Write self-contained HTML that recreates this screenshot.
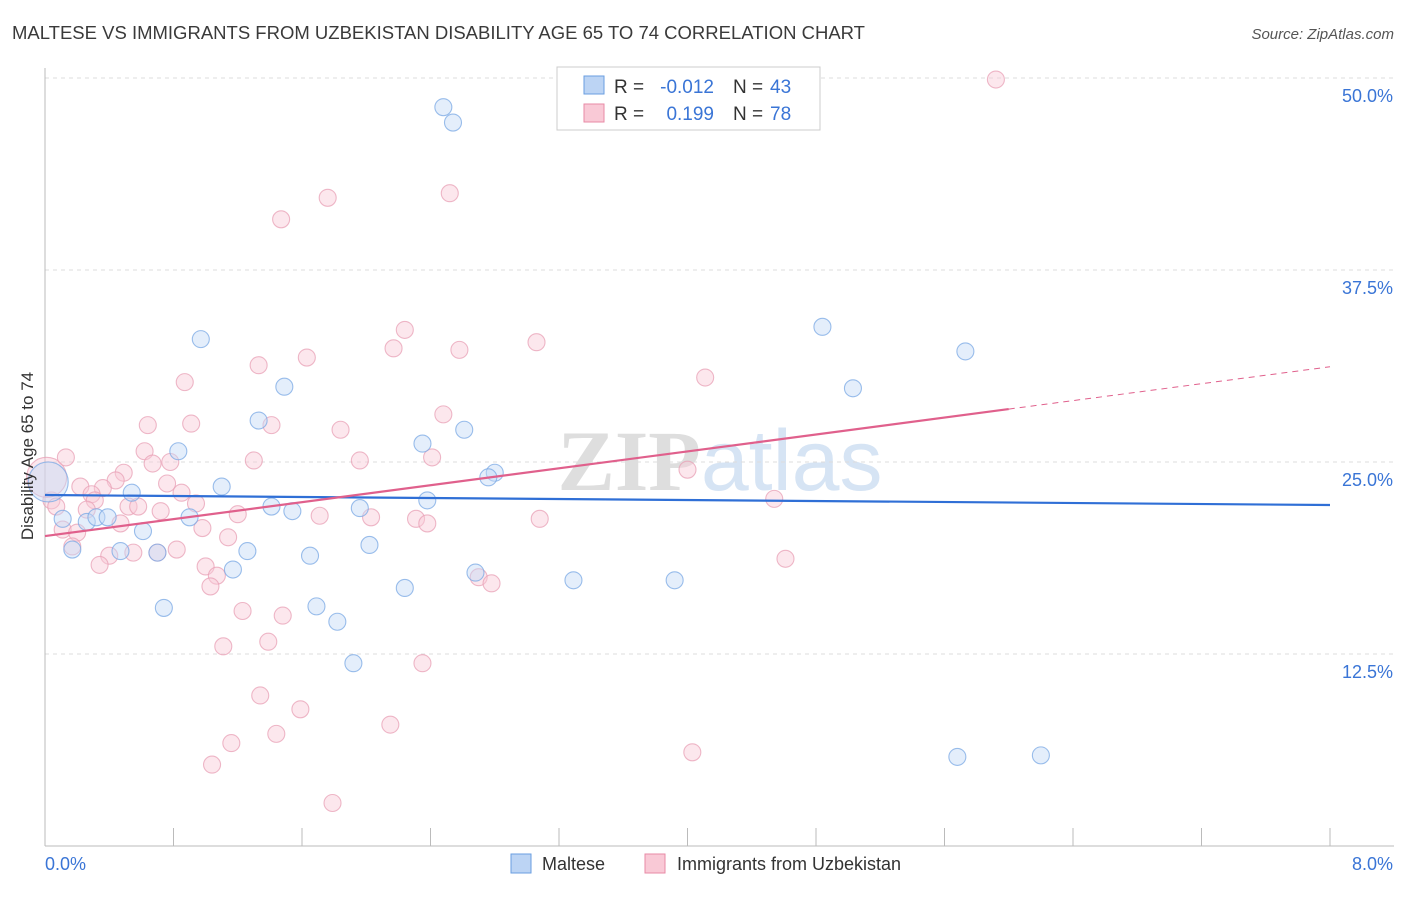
<!DOCTYPE html>
<html><head><meta charset="utf-8"><style>
body{margin:0;background:#fff;font-family:"Liberation Sans",sans-serif;}
svg text{font-family:"Liberation Sans",sans-serif;}
</style></head><body>
<svg id="chart" width="1406" height="892" xmlns="http://www.w3.org/2000/svg">
<text x="12" y="39" font-size="18" fill="#3a3a3a" textLength="853" lengthAdjust="spacingAndGlyphs">MALTESE VS IMMIGRANTS FROM UZBEKISTAN DISABILITY AGE 65 TO 74 CORRELATION CHART</text>
<text x="1394" y="39" font-size="15" fill="#555" text-anchor="end" font-style="italic">Source: ZipAtlas.com</text>
<text x="720" y="490" font-size="86" text-anchor="middle" fill="#e4e4e4"><tspan font-family="Liberation Serif" font-weight="bold" fill="#dedede">ZIP</tspan><tspan fill="#d6e4f4">atlas</tspan></text>
<g id="grid"></g>
<g id="axes"></g>
<g id="pts"></g>
<g id="trend"></g>
<text transform="translate(33,456) rotate(-90)" font-size="17" fill="#333" text-anchor="middle">Disability Age 65 to 74</text>
<g>
<rect x="557" y="67" width="263" height="63" fill="#fff" stroke="#ccc"/>
<rect x="584" y="76" width="20" height="18" fill="#bcd4f4" stroke="#6a9ee0"/>
<rect x="584" y="104" width="20" height="18" fill="#f9c9d6" stroke="#e88aa6"/>
<text x="614" y="93" font-size="19" fill="#333">R =</text>
<text x="714" y="93" font-size="19" fill="#3a75d6" text-anchor="end">-0.012</text>
<text x="733" y="93" font-size="19" fill="#333">N =</text>
<text x="770" y="93" font-size="19" fill="#3a75d6">43</text>
<text x="614" y="120" font-size="19" fill="#333">R =</text>
<text x="714" y="120" font-size="19" fill="#3a75d6" text-anchor="end">0.199</text>
<text x="733" y="120" font-size="19" fill="#333">N =</text>
<text x="770" y="120" font-size="19" fill="#3a75d6">78</text>
</g>
<g>
<rect x="511" y="854" width="20" height="19" fill="#bcd4f4" stroke="#6a9ee0"/>
<text x="542" y="870" font-size="18" fill="#333">Maltese</text>
<rect x="645" y="854" width="20" height="19" fill="#f9c9d6" stroke="#e88aa6"/>
<text x="677" y="870" font-size="18" fill="#333">Immigrants from Uzbekistan</text>
</g>
</svg>
<script>
const yTicks=[12.5,25,37.5,50];
const yTickLabels=["12.5%","25.0%","37.5%","50.0%"];
const xTickLabels=["0.0%","8.0%"];
const blueX=[2.48,2.54,0.97,1.49,1.33,0.83,2.35,2.61,2.80,2.76,4.84,5.03,5.73,1.10,0.54,1.41,1.54,1.96,2.38,0.11,0.26,0.32,0.39,0.61,0.17,0.47,0.70,0.90,1.26,1.17,1.65,2.02,2.24,2.68,3.29,3.92,0.74,1.69,1.82,1.92,5.68,6.20,0.02];
const blueY=[48.1,47.1,33.0,29.9,27.7,25.7,26.2,27.1,24.3,24.0,33.8,29.8,32.2,23.4,23.0,22.1,21.8,22.0,22.5,21.3,21.1,21.4,21.4,20.5,19.3,19.2,19.1,21.4,19.2,18.0,18.9,19.6,16.8,17.8,17.3,17.3,15.5,15.6,14.6,11.9,5.8,5.9,23.7];
const pinkX=[0.64,0.91,1.41,0.13,0.62,0.67,0.78,1.30,0.49,0.44,0.36,0.22,0.29,0.31,0.76,0.85,0.94,0.04,0.07,0.26,0.52,0.58,0.72,1.20,1.71,0.47,0.11,0.20,0.98,1.14,0.17,0.40,0.55,0.70,0.82,0.34,1.00,1.07,1.03,1.23,1.48,5.92,2.52,1.76,1.47,2.24,3.06,2.17,2.58,1.63,1.33,4.11,0.87,2.48,1.84,2.41,1.96,4.00,4.54,2.03,2.31,2.38,3.08,2.70,2.78,4.61,1.39,1.11,1.34,1.59,2.15,1.16,1.44,1.04,4.03,1.79,2.35,0.01];
const pinkY=[27.4,27.5,27.4,25.3,25.7,24.9,25.0,25.1,24.3,23.8,23.3,23.4,22.9,22.5,23.6,23.0,22.3,22.5,22.1,21.9,22.1,22.1,21.8,21.6,21.5,21.0,20.6,20.4,20.7,20.1,19.5,18.9,19.1,19.1,19.3,18.3,18.2,17.6,16.9,15.3,15.0,49.9,42.5,42.2,40.8,33.6,32.8,32.4,32.3,31.8,31.3,30.5,30.2,28.1,27.1,25.3,25.1,24.5,22.6,21.4,21.3,21.0,21.3,17.5,17.1,18.7,13.3,13.0,9.8,8.9,7.9,6.7,7.3,5.3,6.1,2.8,11.9,24.0];
const blueTrend=[22.85,22.2];
const pinkTrend=[20.18,31.2];
const NS="http://www.w3.org/2000/svg";
const xs=v=>45+v/8*1285, ys=v=>846-v*15.36;
function mk(t,a,p){const e=document.createElementNS(NS,t);for(const k in a)e.setAttribute(k,a[k]);p.appendChild(e);return e;}
const grid=document.getElementById('grid'),axes=document.getElementById('axes'),pts=document.getElementById('pts'),tr=document.getElementById('trend');
yTicks.forEach((t,i)=>{
 const l=mk('line',{x1:45,x2:1394,y1:ys(t),y2:ys(t),stroke:'#ddd','stroke-dasharray':'4,4'},grid);
 
 
 const tx=mk('text',{x:1393,y:ys(t)+24,'font-size':18,fill:'#3a75d6','text-anchor':'end'},axes);tx.textContent=yTickLabels[i];
 
 
});
const ax=mk('line',{x1:45,x2:1394,y1:846,y2:846,stroke:'#bbb'},axes);


const ay=mk('line',{x1:45,x2:45,y1:68,y2:846,stroke:'#bbb'},axes);


for(let i=1;i<=10;i++){const x=45+i*128.5;const t=mk('line',{x1:x,x2:x,y1:828,y2:846,stroke:'#bbb'},axes);
 
 }
[[0,45,'start'],[8,1393,'end']].forEach((d,i)=>{const t=mk('text',{x:d[1],y:870,'font-size':18,fill:'#3a75d6','text-anchor':d[2]},axes);t.textContent=xTickLabels[i];
 
 });
function dots(X,Y,fill,stroke,name){X.forEach((x,i)=>{const big=x<0.03;
 const c=mk('circle',{cx:xs(x),cy:ys(Y[i]),r:big?20:8.5,fill:fill,'fill-opacity':0.45,stroke:stroke,'stroke-opacity':0.75,'stroke-width':1.1},pts);
 
 });}
dots(pinkX,pinkY,'#f9c9d6','#e8a0b6','immigrants-uzbekistan-point');
dots(blueX,blueY,'#c4daf6','#7aa8e4','maltese-point');
const bl=mk('line',{x1:xs(0),y1:ys(blueTrend[0]),x2:xs(8),y2:ys(blueTrend[1]),stroke:'#2f6fd6','stroke-width':2.2},tr);


const pAt=x=>pinkTrend[0]+(pinkTrend[1]-pinkTrend[0])*x/8;
const pl=mk('line',{x1:xs(0),y1:ys(pAt(0)),x2:xs(6),y2:ys(pAt(6)),stroke:'#e0608c','stroke-width':2.2},tr);


const pd=mk('line',{x1:xs(6),y1:ys(pAt(6)),x2:xs(8),y2:ys(pAt(8)),stroke:'#e0608c','stroke-width':1,'stroke-dasharray':'6,5'},tr);


</script>
</body></html>
